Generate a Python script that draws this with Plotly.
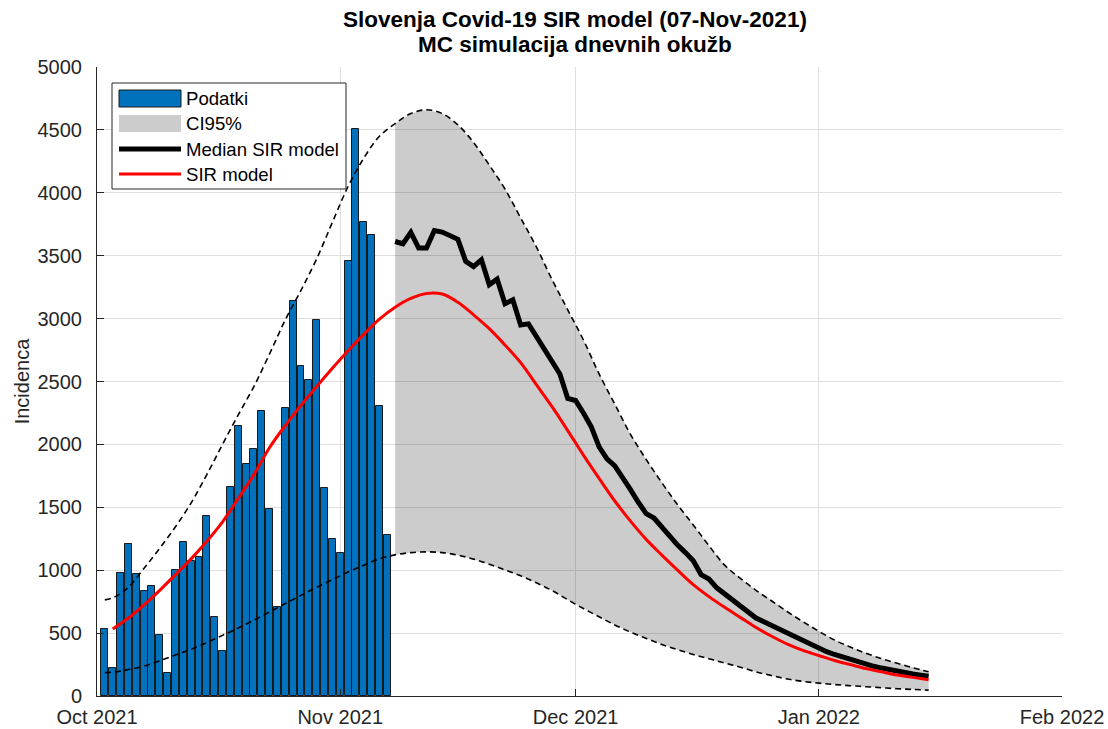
import pandas as pd
import plotly.graph_objects as go

# ---------------- data ----------------
title_lines = ["Slovenja Covid-19 SIR model (07-Nov-2021)", "MC simulacija dnevnih okužb"]
y_title = "Incidenca"
x_tick_dates = ["2021-10-01", "2021-11-01", "2021-12-01", "2022-01-01", "2022-02-01"]
x_tick_labels = ["Oct 2021", "Nov 2021", "Dec 2021", "Jan 2022", "Feb 2022"]
y_tick_values = [0, 500, 1000, 1500, 2000, 2500, 3000, 3500, 4000, 4500, 5000]
legend_names = ["Podatki", "CI95%", "Median SIR model", "SIR model"]

# daily reported cases (Podatki), 2021-10-02 .. 2021-11-07
podatki_start = "2021-10-02"
podatki = [533, 220, 976, 1206, 968, 835, 877, 482, 180, 1000,
           1222, 1076, 1108, 1434, 626, 358, 1665, 2150, 1848, 1967,
           2269, 1490, 705, 2293, 3136, 2624, 2508, 2985, 1657, 1252,
           1135, 3454, 4509, 3770, 3661, 2309, 1278]

# CI95% bounds: 2021-10-02..10-05 daily, then every 2 days from 2021-10-07 to 2022-01-15
ci_dates = (["2021-10-02", "2021-10-03", "2021-10-04", "2021-10-05"]
            + [d.strftime("%Y-%m-%d") for d in pd.date_range("2021-10-07", "2022-01-15", freq="2D")])
ci_upper = [764, 780, 815, 865,
            1015, 1175, 1345, 1535, 1760, 2000, 2235, 2460, 2720, 2990,
            3225, 3475, 3765, 4050, 4275, 4450, 4550, 4630, 4660, 4630,
            4540, 4400, 4220, 4030, 3800, 3570, 3310, 3070, 2830, 2560,
            2320, 2080, 1880, 1695, 1520, 1360, 1195, 1040, 935, 840,
            755, 670, 590, 515, 445, 390, 340, 297, 260, 225, 192]
ci_lower = [186, 190, 198, 210,
            238, 280, 325, 372, 425, 482, 540, 603, 668, 735,
            800, 865, 925, 985, 1040, 1090, 1122, 1140, 1146, 1140,
            1120, 1088, 1048, 1002, 955, 900, 838, 765, 695, 630,
            565, 508, 458, 410, 368, 330, 296, 262, 229, 192,
            162, 135, 116, 102, 91, 82, 74, 66, 58, 52, 47]
band_start = "2021-11-08"

# SIR model (red), every 2 days 2021-10-03 .. 2022-01-15
sir_dates = [d.strftime("%Y-%m-%d") for d in pd.date_range("2021-10-03", "2022-01-15", freq="2D")]
sir_model = [533, 620, 725, 840, 965, 1090, 1230, 1385, 1570, 1760,
             1975, 2150, 2310, 2460, 2605, 2745, 2875, 2995, 3090, 3160,
             3200, 3195, 3130, 3030, 2920, 2790, 2650, 2475, 2300, 2110,
             1915, 1730, 1550, 1390, 1245, 1120, 1000, 885, 790, 705,
             625, 545, 475, 412, 362, 322, 282, 250, 218, 192,
             167, 148, 130]

# Median SIR model (black), daily 2021-11-08 .. 2022-01-15
median_start = "2021-11-08"
median_sir = [3613, 3595, 3685, 3561, 3561, 3700, 3688, 3660, 3630, 3455,
              3414, 3467, 3269, 3314, 3118, 3149, 2950, 2958, 2860, 2760,
              2660, 2560, 2365, 2349, 2250, 2140, 1980, 1885, 1830, 1740,
              1640, 1540, 1450, 1415, 1340, 1265, 1200, 1140, 1075, 965,
              930, 860, 810, 760, 718, 670, 620, 590, 560, 528,
              498, 468, 435, 405, 375, 352, 330, 310, 290, 268,
              252, 236, 222, 208, 196, 185, 175, 166, 158]

# ---------------- styling ----------------
FONT = "Liberation Sans, Arial, Helvetica, sans-serif"
AX = "#262626"
BAR_COLOR = "#0072BD"
BAND_COLOR = "rgba(0,0,0,0.2)"
W, H = 1108, 729
ML, MR, MT, MB = 97, 46, 67, 33
PW, PH = W - ML - MR, H - MT - MB


def px(xp):
    return (xp - ML) / PW


def py(yp):
    return (H - MB - yp) / PH


pod_dates = pd.date_range(podatki_start, periods=len(podatki), freq="D")
med_dates = pd.date_range(median_start, periods=len(median_sir), freq="D")

ci = pd.DataFrame({"date": pd.to_datetime(ci_dates), "up": ci_upper, "lo": ci_lower})
band = ci[ci["date"] >= pd.Timestamp(band_start)]

fig = go.Figure()

fig.add_trace(go.Bar(
    x=pod_dates, y=podatki, name=legend_names[0], showlegend=False,
    width=0.88 * 86400000,
    marker=dict(color=BAR_COLOR, line=dict(color="#1a1a1a", width=1)),
))

fig.add_trace(go.Scatter(
    x=list(band["date"]) + list(band["date"][::-1]),
    y=list(band["up"]) + list(band["lo"][::-1]),
    fill="toself", fillcolor=BAND_COLOR,
    line=dict(width=0, color="rgba(0,0,0,0)"),
    mode="lines", name=legend_names[1], showlegend=False, hoverinfo="skip",
))

for col in ["up", "lo"]:
    fig.add_trace(go.Scatter(
        x=ci["date"], y=ci[col], mode="lines", showlegend=False,
        line=dict(color="black", width=1.6, dash="6px,4px", shape="spline"),
    ))

fig.add_trace(go.Scatter(
    x=med_dates, y=median_sir, mode="lines", name=legend_names[2], showlegend=False,
    line=dict(color="black", width=5),
))

fig.add_trace(go.Scatter(
    x=pd.to_datetime(sir_dates), y=sir_model, mode="lines", name=legend_names[3],
    showlegend=False, line=dict(color="#FF0000", width=3, shape="spline"),
))

# ---- legend box drawn in paper space (MATLAB-style long symbols) ----
shapes = [
    dict(type="rect", xref="paper", yref="paper", layer="above",
         x0=px(112), x1=px(346), y0=py(189), y1=py(83),
         fillcolor="white", line=dict(color=AX, width=1)),
    dict(type="rect", xref="paper", yref="paper", layer="above",
         x0=px(119), x1=px(181), y0=py(107), y1=py(90),
         fillcolor=BAR_COLOR, line=dict(color="#1a1a1a", width=1)),
    dict(type="rect", xref="paper", yref="paper", layer="above",
         x0=px(119), x1=px(181), y0=py(132), y1=py(115),
         fillcolor="#CCCCCC", line=dict(width=0)),
    dict(type="line", xref="paper", yref="paper", layer="above",
         x0=px(119), x1=px(181), y0=py(149), y1=py(149),
         line=dict(color="black", width=5)),
    dict(type="line", xref="paper", yref="paper", layer="above",
         x0=px(119), x1=px(181), y0=py(174), y1=py(174),
         line=dict(color="#FF0000", width=3)),
]
annotations = []
for name, yc in zip(legend_names, [98, 124, 149, 174]):
    annotations.append(dict(
        text=name, xref="paper", yref="paper", x=px(184), y=py(yc),
        xanchor="left", yanchor="middle", showarrow=False,
        font=dict(family=FONT, size=18.6, color="black"),
    ))
for line, yc in zip(title_lines, [20, 45]):
    annotations.append(dict(
        text="<b>" + line + "</b>", xref="paper", yref="paper",
        x=px(575), y=py(yc), xanchor="center", yanchor="middle", showarrow=False,
        font=dict(family=FONT, size=22.5, color="black"),
    ))

fig.update_layout(
    width=W, height=H,
    margin=dict(l=ML, r=MR, t=MT, b=MB, autoexpand=False),
    paper_bgcolor="white", plot_bgcolor="white",
    font=dict(family=FONT, color=AX),
    showlegend=False,
    shapes=shapes, annotations=annotations,
    bargap=0,
)

fig.update_xaxes(
    type="date", range=["2021-10-01", "2022-02-01"],
    tickvals=x_tick_dates, ticktext=x_tick_labels,
    ticks="inside", ticklen=7, tickcolor=AX, tickwidth=1,
    showline=True, linecolor=AX, linewidth=1,
    showgrid=True, gridcolor="#DFDFDF", gridwidth=1,
    zeroline=False, automargin=False, ticklabelstandoff=3,
    tickfont=dict(family=FONT, size=20, color=AX),
)
fig.update_yaxes(
    range=[0, 5000], tickvals=y_tick_values,
    ticks="inside", ticklen=7, tickcolor=AX, tickwidth=1,
    showline=True, linecolor=AX, linewidth=1,
    showgrid=True, gridcolor="#DFDFDF", gridwidth=1,
    zeroline=False, automargin=False, ticklabelstandoff=10,
    tickfont=dict(family=FONT, size=20, color=AX),
    title=dict(text=y_title, font=dict(family=FONT, size=20, color=AX), standoff=2),
)

fig.write_html("out.html")
